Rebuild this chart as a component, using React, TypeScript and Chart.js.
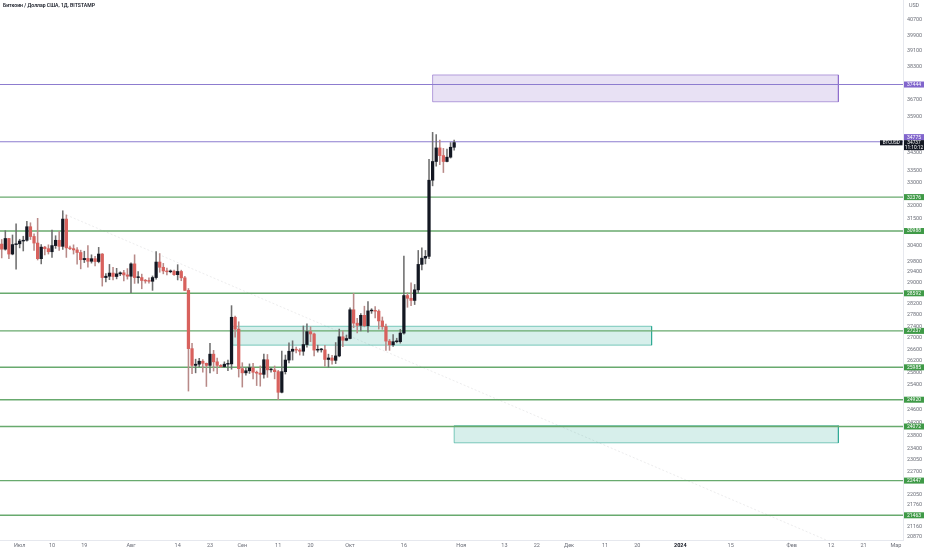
import React, { useEffect, useRef } from "react";
import { Chart, registerables } from "chart.js";

Chart.register(...registerables);

const FONT = "Roboto, 'Noto Sans', sans-serif";

const title = "Биткоин / Доллар США, 1Д, BITSTAMP";
const currency = "USD";
const symbol = "BTCUSD";
const countdown = "11:10:12";
const currentPrice = 34737;

// Daily candles starting at startDate (one per day)
const startDate = "2023-06-25";
const opens = [
  30540, 30470, 30270, 30690, 30080, 30450,
  30480, 30590, 30620, 31160, 30770, 30510, 29900, 30350, 30290, 30170, 30410, 30620, 30380, 31470, 30320, 30290,
  30240, 30140, 29860, 29910, 29800, 29900, 29790, 30080, 29180, 29230, 29350, 29220, 29320, 29360, 29280,
  29230, 29700, 29180, 29180, 29070, 29050, 29040, 29180, 29770, 29570, 29430, 29400, 29420, 29290, 29410, 29170,
  28700, 26620, 26050, 26090, 26190, 26120, 26050, 26430, 26170, 26050, 26010, 26090, 26100, 27720, 27300,
  25940, 25800, 25870, 25970, 25820, 25790, 25750, 26240, 25900, 25900, 25840, 25160, 25840, 26230, 26530,
  26600, 26570, 26530, 26760, 27210, 27130, 26570, 26580, 26580, 26250, 26300, 26220, 26370, 27030, 26910,
  26970, 27990, 27510, 27430, 27790, 27420, 27950, 27970, 27940, 27590, 27390, 26880, 26750, 26860, 26860,
  27160, 28510, 28410, 28330, 28720, 29680, 29920, 29990, 33090, 33900, 34500, 34160, 33900, 34090, 34530,
];
const highs = [
  31040, 30650, 31000, 30700, 30830, 31280,
  30660, 30780, 31380, 31320, 30880, 31500, 30450, 30380, 30440, 31030, 30800, 30980, 31810, 31640, 30390, 30440,
  30330, 30230, 30190, 30410, 30050, 29990, 30340, 30100, 29330, 29680, 29570, 29530, 29400, 29450, 29520,
  29740, 30050, 29410, 29310, 29110, 29170, 29240, 30180, 30100, 29720, 29540, 29470, 29460, 29670, 29460, 29230,
  28770, 26800, 26260, 26290, 26250, 26130, 26800, 26560, 26300, 26080, 26170, 26230, 28140, 27760, 27560,
  26140, 25970, 26100, 26120, 25860, 26030, 26430, 26420, 25950, 26030, 25880, 26540, 26400, 26820, 26890,
  26670, 26620, 27410, 27490, 27380, 27160, 26740, 26630, 26730, 26430, 26390, 26830, 27300, 27230, 27090,
  28060, 28590, 27680, 27850, 28120, 28290, 28030, 28110, 27990, 27730, 27480, 26940, 27110, 26980, 27290,
  30000, 28610, 28980, 28920, 30220, 30320, 30220, 34000, 35200, 35100, 34850, 34480, 34450, 34740, 34850,
];
const lows = [
  30300, 29930, 30230, 29900, 30050, 29500,
  30320, 30200, 30580, 30650, 30220, 29850, 29700, 30050, 30080, 29950, 30300, 30220, 30260, 29950, 30250, 30080,
  29690, 29510, 29750, 29570, 29730, 29620, 29740, 28860, 29020, 29100, 29090, 29130, 29250, 29050, 29120,
  28620, 28960, 28970, 28760, 28970, 28970, 28700, 29120, 29380, 29320, 29280, 29360, 29260, 29090, 29060, 28700,
  25200, 25770, 25800, 26000, 25820, 25350, 25800, 25860, 25770, 25980, 25980, 25870, 25920, 27020, 25660,
  25330, 25720, 25780, 25600, 25380, 25360, 25620, 25650, 25820, 25600, 24920, 25140, 25760, 26130, 26230,
  26470, 26400, 26390, 26670, 26860, 26370, 26500, 26500, 26020, 25990, 26090, 26110, 26340, 26690, 26890,
  26960, 27350, 27170, 27240, 27380, 27190, 27860, 27700, 27300, 27290, 26560, 26560, 26700, 26820, 26810,
  27120, 28080, 28140, 28180, 28600, 29470, 29700, 29900, 32850, 33700, 33760, 33420, 33880, 34050, 34400,
];
const closes = [
  30470, 30270, 30690, 30080, 30450, 30480,
  30590, 30620, 31160, 30770, 30510, 29900, 30350, 30290, 30170, 30410, 30620, 30380, 31470, 30320, 30290, 30240,
  30140, 29860, 29910, 29800, 29900, 29790, 30080, 29180, 29230, 29350, 29220, 29320, 29360, 29280, 29230,
  29700, 29180, 29180, 29070, 29050, 29040, 29180, 29770, 29570, 29430, 29400, 29420, 29290, 29410, 29170, 28700,
  26620, 26050, 26090, 26190, 26120, 26050, 26430, 26170, 26050, 26010, 26090, 26100, 27720, 27300, 25940,
  25800, 25870, 25970, 25820, 25790, 25750, 26240, 25900, 25900, 25840, 25160, 25840, 26230, 26530, 26600,
  26570, 26530, 26760, 27210, 27130, 26570, 26580, 26580, 26250, 26300, 26220, 26370, 27030, 26910, 26970,
  27990, 27510, 27430, 27790, 27420, 27950, 27970, 27940, 27590, 27390, 26880, 26750, 26860, 26860, 27160,
  28510, 28410, 28330, 28720, 29680, 29920, 29990, 33090, 33900, 34500, 34160, 33900, 34090, 34530, 34737,
];

// Horizontal levels
const purpleLevels = [37444, 34775];
const greenLevels = [32376, 30988, 28592, 27237, 25985, 24920, 24072, 22447, 21463];

// Rectangles: [startDate, endDate, top price, bottom price]
const purpleBoxes: [string, string, number, number][] = [["2023-10-24", "2024-02-14", 37910, 36620]];
const greenBoxes: [string, string, number, number][] = [
  ["2023-08-29", "2023-12-24", 27400, 26740],
  ["2023-10-30", "2024-02-14", 24100, 23570],
];

// Faint trend line
const trendDates = ["2023-07-13", "2024-02-14"];
const trendPrices = [31700, 20650];

// Axis ticks
const yTicks = [
  40700, 39900, 39100, 38300, 36700, 35900, 34300, 33500, 33000, 32400, 32000, 31500, 30400, 29800, 29400,
  29000, 28200, 27800, 27400, 27000, 26600, 26200, 25800, 25400, 24600, 24200, 23800, 23400, 23050, 22700,
  22050, 21760, 21160, 20870,
];
const xTickDates = [
  "2023-07-01", "2023-07-10", "2023-07-19", "2023-08-01", "2023-08-14", "2023-08-23", "2023-09-01",
  "2023-09-11", "2023-09-20", "2023-10-01", "2023-10-16", "2023-11-01", "2023-11-13", "2023-11-22",
  "2023-12-01", "2023-12-11", "2023-12-20", "2024-01-01", "2024-01-15", "2024-02-01", "2024-02-12",
  "2024-02-21", "2024-03-01",
];
const xTickLabels = [
  "Июл", "10", "19", "Авг", "14", "23", "Сен", "11", "20", "Окт", "16", "Ноя", "13", "22", "Дек", "11", "20",
  "2024", "15", "Фев", "12", "21", "Мар",
];

const dayIndex = (d: string) =>
  Math.round((Date.parse(d + "T00:00:00Z") - Date.parse(startDate + "T00:00:00Z")) / 86400000);

const X_MIN = 0.52;
const X_MAX = 252.0;
const Y_MIN = 20789;
const Y_MAX = 41765;

const UP = "#131722";
const DOWN = "#d8615d";
const PURPLE_LINE = "#8d7ccf";
const GREEN_LINE = "#68aa6e";
const PURPLE_TAG = "#8165cc";
const GREEN_TAG = "#3f9a47";
const TICK_COLOR = "#6b6e78";

function rectPoints(b: [string, string, number, number]) {
  const x1 = dayIndex(b[0]);
  const x2 = dayIndex(b[1]);
  return [
    { x: x1, y: b[2] },
    { x: x2, y: b[2] },
    { x: x2, y: b[3] },
    { x: x1, y: b[3] },
    { x: x1, y: b[2] },
  ];
}

const overlayPlugin = {
  id: "overlay",
  afterDraw(chart: any) {
    const { ctx, chartArea } = chart;
    const ys = chart.scales.y;
    const ax = chartArea.right + 1;
    const tagW = 20;
    ctx.save();
    ctx.textBaseline = "middle";

    ctx.font = `600 5.1px ${FONT}`;
    ctx.fillStyle = "#131722";
    ctx.textAlign = "left";
    ctx.fillText(title, 3, 6);

    ctx.font = `5.4px ${FONT}`;
    ctx.fillStyle = TICK_COLOR;
    ctx.textAlign = "center";
    ctx.fillText(currency, ax + 10, 6);

    const yCur = ys.getPixelForValue(currentPrice);

    const drawTag = (v: number, color: string) => {
      let yy = ys.getPixelForValue(v);
      if (Math.abs(yy - yCur) < 6) yy = yCur - 5.5;
      ctx.fillStyle = color;
      ctx.fillRect(ax, yy - 3, tagW, 6);
      ctx.fillStyle = "#ffffff";
      ctx.font = `5px ${FONT}`;
      ctx.textAlign = "center";
      ctx.fillText(String(v), ax + tagW / 2, yy + 0.2);
    };
    greenLevels.forEach((v) => drawTag(v, GREEN_TAG));
    purpleLevels.forEach((v) => drawTag(v, PURPLE_TAG));

    // current price tag
    ctx.fillStyle = "#131722";
    ctx.fillRect(ax, yCur - 2.5, tagW, 10);
    ctx.fillStyle = "#ffffff";
    ctx.font = `4.8px ${FONT}`;
    ctx.textAlign = "center";
    ctx.fillText(String(currentPrice), ax + tagW / 2, yCur);
    ctx.fillText(countdown, ax + tagW / 2, yCur + 4.8);

    // symbol tag
    ctx.fillStyle = "#131722";
    ctx.fillRect(chartArea.right - 23, yCur - 2.3, 22.5, 5);
    ctx.fillStyle = "#ffffff";
    ctx.font = `4.6px ${FONT}`;
    ctx.fillText(symbol, chartArea.right - 11.75, yCur + 0.2);
    ctx.restore();
  },
};

export default function App() {
  const canvasRef = useRef<HTMLCanvasElement | null>(null);

  useEffect(() => {
    if (!canvasRef.current) return;
    const idx = opens.map((_, i) => i);
    const isUp = idx.map((i) => closes[i] >= opens[i]);

    const datasets: any[] = [];
    datasets.push({
      type: "bar",
      data: idx.map((i) => ({ x: i, y: [opens[i], closes[i]] })),
      backgroundColor: isUp.map((u) => (u ? UP : DOWN)),
      barThickness: 2.6,
      minBarLength: 0.8,
      grouped: false,
      order: 1,
    });
    datasets.push({
      type: "bar",
      data: idx.map((i) => ({ x: i, y: [lows[i], highs[i]] })),
      backgroundColor: isUp.map((u) => (u ? "#6f6f6f" : "#b88a88")),
      barThickness: 0.9,
      grouped: false,
      order: 2,
    });
    purpleLevels.forEach((v) =>
      datasets.push({
        type: "line",
        data: [
          { x: X_MIN, y: v },
          { x: X_MAX, y: v },
        ],
        borderColor: PURPLE_LINE,
        borderWidth: 1.1,
        pointRadius: 0,
        fill: false,
        order: 5,
      })
    );
    greenLevels.forEach((v) =>
      datasets.push({
        type: "line",
        data: [
          { x: X_MIN, y: v },
          { x: X_MAX, y: v },
        ],
        borderColor: GREEN_LINE,
        borderWidth: 1.4,
        pointRadius: 0,
        fill: false,
        order: 5,
      })
    );
    purpleBoxes.forEach((b) =>
      datasets.push({
        type: "line",
        data: rectPoints(b),
        borderColor: "rgba(126,87,194,0.55)",
        backgroundColor: "rgba(126,87,194,0.18)",
        borderWidth: 1,
        pointRadius: 0,
        fill: "shape",
        order: 8,
      })
    );
    greenBoxes.forEach((b) =>
      datasets.push({
        type: "line",
        data: rectPoints(b),
        borderColor: "rgba(8,153,129,0.5)",
        backgroundColor: "rgba(8,153,129,0.16)",
        borderWidth: 1,
        pointRadius: 0,
        fill: "shape",
        order: 8,
      })
    );
    datasets.push({
      type: "line",
      data: trendDates.map((d, i) => ({ x: dayIndex(d), y: trendPrices[i] })),
      borderColor: "rgba(185,185,190,0.28)",
      borderWidth: 1,
      borderDash: [2, 2],
      pointRadius: 0,
      fill: false,
      order: 9,
    });

    const xTickIdx = xTickDates.map(dayIndex);

    const chart = new Chart(canvasRef.current, {
      type: "bar",
      data: { datasets },
      plugins: [overlayPlugin],
      options: {
        animation: false,
        responsive: false,
        events: [],
        layout: { padding: 0 },
        plugins: { legend: { display: false }, tooltip: { enabled: false }, title: { display: false } },
        scales: {
          x: {
            type: "linear",
            min: X_MIN,
            max: X_MAX,
            offset: false,
            grid: { display: false, drawTicks: false },
            border: { display: true, color: "#e6e8ee", width: 1 },
            afterBuildTicks: (scale: any) => {
              scale.ticks = xTickIdx.map((v) => ({ value: v }));
            },
            afterFit: (scale: any) => {
              scale.height = 10;
              scale.paddingLeft = 0;
              scale.paddingRight = 0;
            },
            ticks: {
              autoSkip: false,
              maxRotation: 0,
              padding: 2,
              callback: (_v: any, i: number) => xTickLabels[i],
              color: (c: any) => (xTickLabels[c.index] === "2024" ? "#131722" : TICK_COLOR),
              font: (c: any) => ({
                family: FONT,
                size: 5.5,
                weight: xTickLabels[c.index] === "2024" ? "bold" : "normal",
              }),
            },
          },
          y: {
            type: "logarithmic",
            position: "right",
            min: Y_MIN,
            max: Y_MAX,
            grid: { display: false, drawTicks: false },
            border: { display: true, color: "#e6e8ee", width: 1 },
            afterBuildTicks: (scale: any) => {
              scale.ticks = yTicks.map((v) => ({ value: v }));
            },
            afterFit: (scale: any) => {
              scale.width = 29;
              scale.paddingTop = 0;
              scale.paddingBottom = 0;
            },
            ticks: {
              autoSkip: false,
              padding: 4,
              callback: (v: any) => String(v),
              color: TICK_COLOR,
              font: { family: FONT, size: 5.4 },
            },
          },
        },
      } as any,
    });
    return () => chart.destroy();
  }, []);

  return (
    <div style={{ position: "absolute", left: 0, top: 0, width: 932, height: 550, background: "#ffffff" }}>
      <canvas ref={canvasRef} width={932} height={550} style={{ width: 932, height: 550, display: "block" }} />
    </div>
  );
}
